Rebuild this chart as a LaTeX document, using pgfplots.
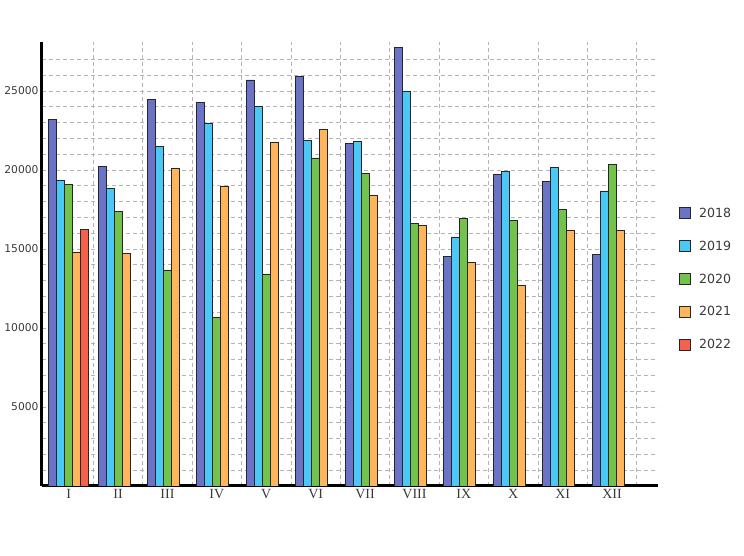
\documentclass[border=0pt]{standalone}
\usepackage{fontspec}
\setmainfont{Liberation Serif}
\newfontfamily\verd{DejaVu Sans}
\usepackage{pgfplots}
\pgfplotsset{compat=1.18}
\definecolor{c18}{HTML}{6B73C6}
\definecolor{c19}{HTML}{4BC8F5}
\definecolor{c20}{HTML}{72C24C}
\definecolor{c21}{HTML}{FFB55C}
\definecolor{c22}{HTML}{F5614A}
\definecolor{gridc}{HTML}{B4B4B4}
\definecolor{txt}{HTML}{3A3A3A}
\begin{document}
\begin{tikzpicture}
\begin{axis}[
  at={(42pt,70pt)}, anchor=south west,
  scale only axis, width=616pt, height=444pt,
  xmin=-0.54, xmax=11.93, ymin=0, ymax=28100,
  ybar=0pt, bar width=0.162,
  axis x line*=bottom, axis y line*=left,
  axis line style={black, line width=3pt, -},
  xtick={0,...,11},
  xticklabels={I,II,III,IV,V,VI,VII,VIII,IX,X,XI,XII},
  minor xtick={0.5,1.5,...,11.5},
  ytick={5000,10000,15000,20000,25000},
  minor ytick={1000,2000,...,27000},
  ymajorgrids, yminorgrids, xminorgrids,
  major grid style={gridc, line width=0.8pt, dash pattern=on 4pt off 3pt},
  minor grid style={gridc, line width=0.8pt, dash pattern=on 4pt off 3pt},
  major tick length=0pt, minor tick length=0pt,
  scaled y ticks=false,
  /pgf/number format/assume math mode=true,
  yticklabel style={font=\verd\fontsize{10.7}{12}\selectfont, text=txt,
    /pgf/number format/.cd, fixed, 1000 sep={}},
  xticklabel style={font=\fontsize{14}{16}\selectfont, text=txt},
  legend style={at={(1.034,0.466)}, anchor=west, draw=none, fill=none,
    inner sep=0pt, row sep=18pt, column sep=6pt,
    font=\verd\fontsize{12.6}{14}\selectfont, text=txt},
  legend cell align=left,
  legend image code/.code={\draw[#1, line width=0.9pt] (0pt,-5.5pt) rectangle (11pt,5.5pt);},
  every axis plot/.append style={draw=black!85, line width=0.8pt},
]
\addplot[fill=c18] coordinates {(0,23200)(1,20210)(2,24470)(3,24260)(4,25700)(5,25910)(6,21660)(7,27780)(8,14520)(9,19730)(10,19300)(11,14650)};
\addplot[fill=c19] coordinates {(0,19320)(1,18820)(2,21480)(3,22930)(4,24020)(5,21870)(6,21790)(7,25000)(8,15760)(9,19920)(10,20150)(11,18670)};
\addplot[fill=c20] coordinates {(0,19100)(1,17360)(2,13670)(3,10680)(4,13420)(5,20760)(6,19770)(7,16620)(8,16960)(9,16820)(10,17490)(11,20340)};
\addplot[fill=c21] coordinates {(0,14810)(1,14730)(2,20080)(3,18990)(4,21730)(5,22570)(6,18400)(7,16470)(8,14160)(9,12700)(10,16190)(11,16190)};
\addplot[fill=c22] coordinates {(0,16250)};
\legend{2018,2019,2020,2021,2022}
\end{axis}
\pgfresetboundingbox
\path[use as bounding box] (0,0) rectangle (744pt,556pt);
\end{tikzpicture}
\end{document}
